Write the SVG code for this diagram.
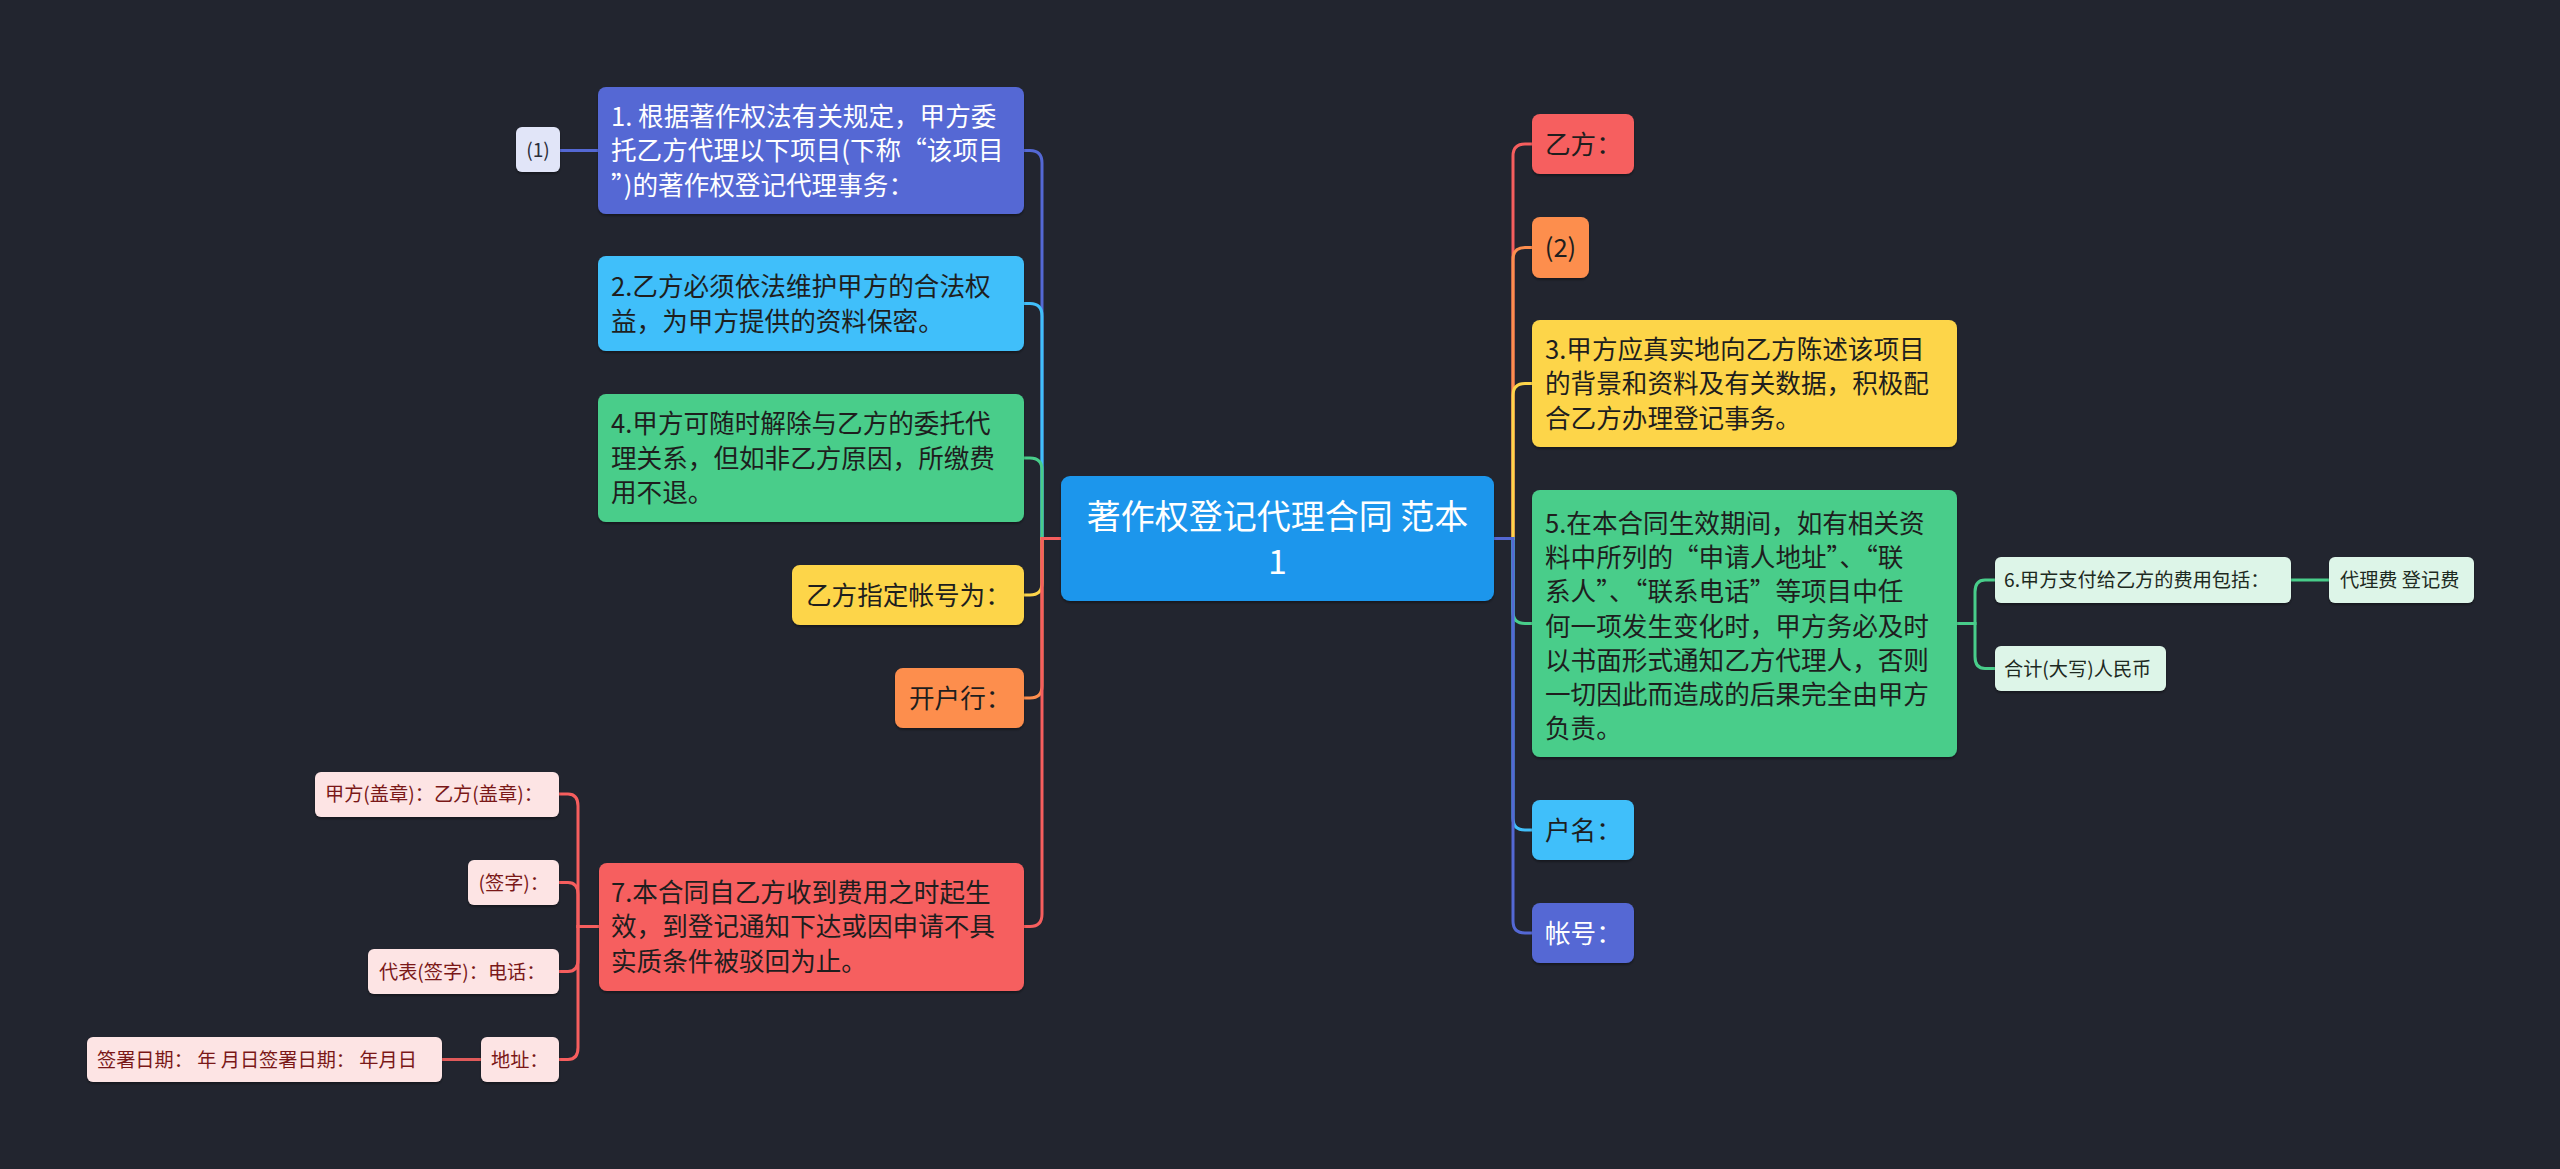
<svg xmlns="http://www.w3.org/2000/svg" width="2560" height="1169" viewBox="0 0 2560 1169">
<defs>
<filter id="sh" x="-5%" y="-10%" width="110%" height="130%">
<feDropShadow dx="0" dy="2" stdDeviation="1" flood-color="#000" flood-opacity="0.35"/>
</filter>
</defs>
<style>
text { font-family: "Noto Sans CJK SC", "Noto Sans", sans-serif; }
.b { font-size: 25.6px; fill: #1e1e1e; }
.s { font-size: 19.2px; }
.w { fill: #ffffff; }
.c { font-size: 34px; fill: #ffffff; }
.q { font-feature-settings: "fwid" 1; }
.pk { fill: #fde4e4; }
.pkt { fill: #7a1818; }
.gn { fill: #ddf5e8; }
.gnt { fill: #1d2a22; }
rect { filter: url(#sh); }
.ln { fill: none; stroke-width: 3; stroke-linecap: round; }
</style>
<rect x="0" y="0" width="2560" height="1169" fill="#22252f" style="filter:none"/>

<g id="connectors">
<path class="ln" stroke="#5468d4" d="M1061 538.5 H1042 V163 Q1042 150.5 1030 150.5 H1024"/>
<path class="ln" stroke="#41bffa" d="M1061 538.5 H1042 V316 Q1042 303.5 1030 303.5 H1024"/>
<path class="ln" stroke="#48cd8a" d="M1061 538.5 H1042 V470 Q1042 458 1030 458 H1024"/>
<path class="ln" stroke="#fdd54a" d="M1061 538.5 H1042 V583 Q1042 595 1030 595 H1024"/>
<path class="ln" stroke="#fd8e4e" d="M1061 538.5 H1042 V686 Q1042 698 1030 698 H1024"/>
<path class="ln" stroke="#f65e5e" d="M1061 538.5 H1042 V914 Q1042 926.5 1030 926.5 H1024"/>
<path class="ln" stroke="#f65e5e" d="M1494 538.5 H1513 V156 Q1513 144 1525 144 H1532"/>
<path class="ln" stroke="#fd8e4e" d="M1494 538.5 H1513 V259.5 Q1513 247.5 1525 247.5 H1532"/>
<path class="ln" stroke="#fdd54a" d="M1494 538.5 H1513 V395.5 Q1513 383.5 1525 383.5 H1532"/>
<path class="ln" stroke="#48cd8a" d="M1494 538.5 H1513 V611.5 Q1513 623.5 1525 623.5 H1532"/>
<path class="ln" stroke="#41bffa" d="M1494 538.5 H1513 V818 Q1513 830 1525 830 H1532"/>
<path class="ln" stroke="#5468d4" d="M1494 538.5 H1513 V921 Q1513 933 1525 933 H1532"/>
<path class="ln" stroke="#5468d4" d="M598 150.5 H560"/>
<path class="ln" stroke="#f65e5e" d="M599 926.5 H578 V806 Q578 794 568 794 H559"/>
<path class="ln" stroke="#f65e5e" d="M599 926.5 H578 V894.5 Q578 882.5 568 882.5 H559"/>
<path class="ln" stroke="#f65e5e" d="M599 926.5 H578 V959.5 Q578 971.5 568 971.5 H559"/>
<path class="ln" stroke="#f65e5e" d="M599 926.5 H578 V1047.5 Q578 1059.5 568 1059.5 H559"/>
<path class="ln" stroke="#e05a5a" d="M481 1059.5 H442"/>
<path class="ln" stroke="#48cd8a" d="M1957 623.5 H1975 V592 Q1975 580 1985 580 H1995"/>
<path class="ln" stroke="#48cd8a" d="M1957 623.5 H1975 V656.5 Q1975 668.5 1985 668.5 H1995"/>
<path class="ln" stroke="#48cd8a" d="M2291 580 H2329"/>
</g>

<g id="center">
<rect x="1061" y="476" width="433" height="125" rx="9" fill="#1b96ec"/>
<text class="c" x="1277.5" y="529" text-anchor="middle">著作权登记代理合同 范本</text>
<text class="c" x="1277.5" y="574" text-anchor="middle">1</text>
</g>

<g id="n1">
<rect x="598" y="87" width="426" height="127" rx="8" fill="#5468d4"/>
<text class="b w" x="611" y="125.5">1. 根据著作权法有关规定，甲方委</text>
<text class="b w" x="611" y="160">托乙方代理以下项目(下称<tspan class="q">“</tspan>该项目</text>
<text class="b w" x="611" y="194.5"><tspan class="q">”</tspan>)的著作权登记代理事务：</text>
</g>
<g id="n1a">
<rect x="516" y="127" width="44" height="45" rx="6" fill="#e1e5f8"/>
<text class="s" x="538" y="156.5" text-anchor="middle" fill="#2a2d3a">(1)</text>
</g>

<g id="n2">
<rect x="598" y="256" width="426" height="95" rx="8" fill="#41bffa"/>
<text class="b" x="611" y="296">2.乙方必须依法维护甲方的合法权</text>
<text class="b" x="611" y="330.5">益，为甲方提供的资料保密。</text>
</g>

<g id="n4">
<rect x="598" y="394" width="426" height="128" rx="8" fill="#48cd8a"/>
<text class="b" x="611" y="433">4.甲方可随时解除与乙方的委托代</text>
<text class="b" x="611" y="467.5">理关系，但如非乙方原因，所缴费</text>
<text class="b" x="611" y="502">用不退。</text>
</g>

<g id="nacct">
<rect x="792" y="565" width="232" height="60" rx="8" fill="#fdd54a"/>
<text class="b" x="806" y="604.5">乙方指定帐号为：</text>
</g>

<g id="nbank">
<rect x="895" y="668" width="129" height="60" rx="8" fill="#fd8e4e"/>
<text class="b" x="909" y="707.5">开户行：</text>
</g>

<g id="n7">
<rect x="599" y="863" width="425" height="128" rx="8" fill="#f65e5e"/>
<text class="b" x="611" y="901.5">7.本合同自乙方收到费用之时起生</text>
<text class="b" x="611" y="936">效，到登记通知下达或因申请不具</text>
<text class="b" x="611" y="970.5">实质条件被驳回为止。</text>
</g>

<g id="n7a">
<rect x="315" y="772" width="244" height="45" rx="6" class="pk"/>
<text class="s pkt" x="325" y="801">甲方(盖章)：乙方(盖章)：</text>
</g>
<g id="n7b">
<rect x="468" y="860" width="91" height="45" rx="6" class="pk"/>
<text class="s pkt" x="478.5" y="890">(签字)：</text>
</g>
<g id="n7c">
<rect x="368" y="949" width="191" height="45" rx="6" class="pk"/>
<text class="s pkt" x="379" y="978.5">代表(签字)：电话：</text>
</g>
<g id="n7d">
<rect x="481" y="1037" width="78" height="45" rx="6" class="pk"/>
<text class="s pkt" x="491" y="1067">地址：</text>
</g>
<g id="n7d1">
<rect x="87" y="1037" width="355" height="45" rx="6" class="pk"/>
<text class="s pkt" x="97" y="1067">签署日期： 年 月日签署日期： 年月日</text>
</g>

<g id="r1">
<rect x="1532" y="114" width="102" height="60" rx="8" fill="#f65e5e"/>
<text class="b" x="1545" y="153.5">乙方：</text>
</g>
<g id="r2">
<rect x="1532" y="217" width="57" height="61" rx="8" fill="#fd8e4e"/>
<text class="b" x="1560.5" y="257" text-anchor="middle">(2)</text>
</g>
<g id="n3">
<rect x="1532" y="320" width="425" height="127" rx="8" fill="#fdd54a"/>
<text class="b" x="1545" y="358.5">3.甲方应真实地向乙方陈述该项目</text>
<text class="b" x="1545" y="393">的背景和资料及有关数据，积极配</text>
<text class="b" x="1545" y="427.5">合乙方办理登记事务。</text>
</g>
<g id="n5">
<rect x="1532" y="490" width="425" height="267" rx="8" fill="#48cd8a"/>
<text class="b" x="1545" y="533">5.在本合同生效期间，如有相关资</text>
<text class="b" x="1545" y="567">料中所列的<tspan class="q">“</tspan>申请人地址<tspan class="q">”</tspan>、<tspan class="q">“</tspan>联</text>
<text class="b" x="1545" y="601">系人<tspan class="q">”</tspan>、<tspan class="q">“</tspan>联系电话<tspan class="q">”</tspan>等项目中任</text>
<text class="b" x="1545" y="635.5">何一项发生变化时，甲方务必及时</text>
<text class="b" x="1545" y="670">以书面形式通知乙方代理人，否则</text>
<text class="b" x="1545" y="703.5">一切因此而造成的后果完全由甲方</text>
<text class="b" x="1545" y="738">负责。</text>
</g>
<g id="n6">
<rect x="1995" y="557" width="296" height="46" rx="6" class="gn"/>
<text class="s gnt" x="2004" y="587">6.甲方支付给乙方的费用包括：</text>
</g>
<g id="n6a">
<rect x="2329" y="557" width="145" height="46" rx="6" class="gn"/>
<text class="s gnt" x="2340" y="587">代理费 登记费</text>
</g>
<g id="n6b">
<rect x="1995" y="646" width="171" height="45" rx="6" class="gn"/>
<text class="s gnt" x="2004" y="675.5">合计(大写)人民币</text>
</g>
<g id="r5">
<rect x="1532" y="800" width="102" height="60" rx="8" fill="#41bffa"/>
<text class="b" x="1545" y="839.5">户名：</text>
</g>
<g id="r6">
<rect x="1532" y="903" width="102" height="60" rx="8" fill="#5468d4"/>
<text class="b w" x="1545" y="942.5">帐号：</text>
</g>
</svg>
